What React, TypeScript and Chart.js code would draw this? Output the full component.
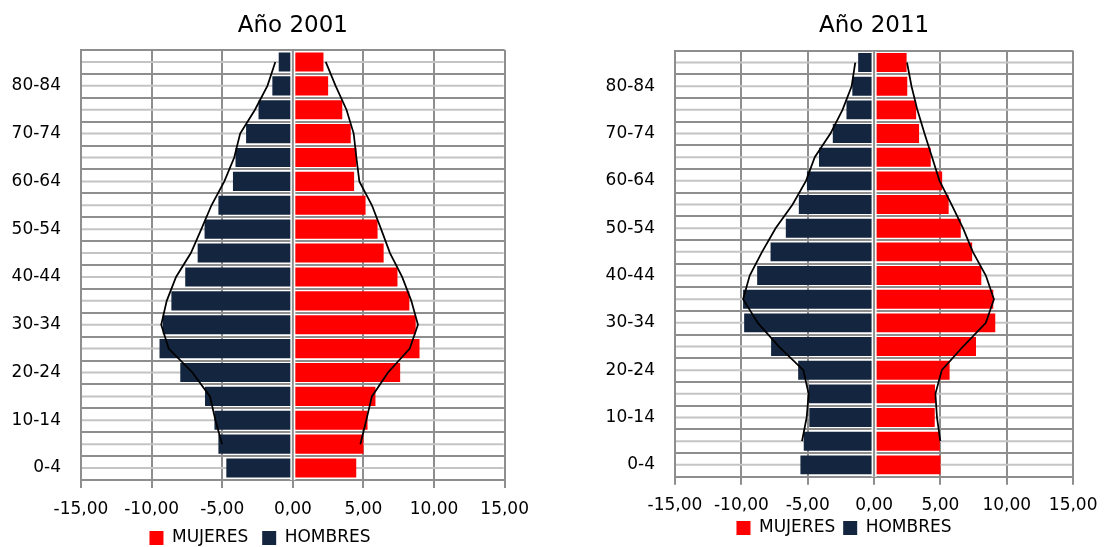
import React, { useEffect, useRef } from 'react';
import { Chart, registerables } from 'chart.js';
Chart.register(...registerables);

const FONT = '"DejaVu Sans", "Open Sans", sans-serif';

const ageGroups = ['0-4','5-9','10-14','15-19','20-24','25-29','30-34','35-39','40-44','45-49','50-54','55-59','60-64','65-69','70-74','75-79','80-84','85+'];

const titles = ['Año 2001', 'Año 2011'];
const legendLabels = ['MUJERES', 'HOMBRES'];

const xMin = -15;
const xMax = 15;
const xStep = 5;

// 2001
const men2001 = [-4.71, -5.27, -5.55, -6.22, -7.97, -9.44, -9.21, -8.6, -7.62, -6.74, -6.25, -5.27, -4.24, -4.06, -3.31, -2.43, -1.45, -1.0];
const women2001 = [4.49, 5.0, 5.29, 5.85, 7.6, 8.97, 8.7, 8.25, 7.41, 6.43, 6.0, 5.15, 4.34, 4.5, 4.1, 3.5, 2.5, 2.17];
const menLine2001 = [null, -5.01, -5.48, -5.87, -7.11, -8.79, -9.32, -8.93, -8.27, -7.22, -6.48, -5.76, -4.85, -4.15, -3.73, -2.68, -1.8, -1.24];
const womenLine2001 = [null, 4.78, 5.2, 5.6, 6.74, 8.28, 8.86, 8.39, 7.74, 6.88, 6.25, 5.6, 4.71, 4.5, 4.31, 3.8, 3.03, 2.33];

// 2011
const men2011 = [-5.55, -5.3, -4.88, -4.91, -5.72, -7.76, -9.79, -9.87, -8.81, -7.8, -6.65, -5.67, -5.06, -4.15, -3.11, -2.08, -1.64, -1.2];
const women2011 = [5.0, 4.96, 4.57, 4.59, 5.69, 7.68, 9.13, 8.98, 8.08, 7.39, 6.53, 5.62, 5.13, 4.27, 3.39, 3.17, 2.5, 2.45];
const menLine2011 = [null, -5.43, -5.08, -4.93, -5.33, -7.17, -8.76, -9.87, -9.37, -8.44, -7.42, -6.14, -5.13, -4.47, -3.29, -2.38, -1.69, -1.42];
const womenLine2011 = [null, 4.99, 4.74, 4.62, 5.1, 6.7, 8.42, 9.03, 8.42, 7.44, 6.7, 5.84, 4.93, 4.37, 3.8, 3.26, 2.82, 2.48];

const RED = '#ff0000';
const NAVY = '#13253f';
const GRID_DARK = '#8e8e8e';
const GRID_LIGHT = '#c4c4c4';

const midLinesPlugin = {
  id: 'midLines',
  beforeDatasetsDraw(chart: any) {
    const { ctx, chartArea, scales } = chart;
    const y = scales.y;
    ctx.save();
    ctx.strokeStyle = GRID_LIGHT;
    ctx.lineWidth = 2;
    for (let i = 0; i < y.ticks.length; i++) {
      const py = y.getPixelForTick(i);
      ctx.beginPath();
      ctx.moveTo(chartArea.left + 1, py);
      ctx.lineTo(chartArea.right - 1, py);
      ctx.stroke();
    }
    ctx.restore();
  },
  afterDatasetsDraw(chart: any) {
    const { ctx, chartArea, scales } = chart;
    const x0 = scales.x.getPixelForValue(0);
    ctx.save();
    ctx.fillStyle = '#ffffff';
    ctx.fillRect(x0 - 2.5, chartArea.top + 1, 5, chartArea.bottom - chartArea.top - 1);
    ctx.strokeStyle = GRID_DARK;
    ctx.lineWidth = 2;
    ctx.beginPath();
    ctx.moveTo(x0, chartArea.top);
    ctx.lineTo(x0, chartArea.bottom);
    ctx.stroke();
    ctx.restore();
  },
};

type PyrProps = {
  title: string;
  men: number[];
  women: number[];
  menLine: (number | null)[];
  womenLine: (number | null)[];
  left: number;
  width: number;
  padLeft: number;
  padRight: number;
  padBottom: number;
  yWidth: number;
  xHeight: number;
  xPad: number;
  legendPad: number;
  titleTop: number;
  titleBottom: number;
};

const H = 560;

function Pyramid(p: PyrProps) {
  const ref = useRef<HTMLCanvasElement | null>(null);
  useEffect(() => {
    if (!ref.current) return;
    const chart = new Chart(ref.current, {
      type: 'bar',
      data: {
        labels: ageGroups,
        datasets: [
          {
            type: 'line',
            label: 'lineH',
            data: p.menLine,
            borderColor: '#000000',
            borderWidth: 1.75,
            pointRadius: 0,
            fill: false,
            tension: 0,
          } as any,
          {
            type: 'line',
            label: 'lineM',
            data: p.womenLine,
            borderColor: '#000000',
            borderWidth: 1.75,
            pointRadius: 0,
            fill: false,
            tension: 0,
          } as any,
          {
            label: legendLabels[0],
            data: p.women,
            backgroundColor: RED,
            borderWidth: 0,
            barPercentage: 0.8,
            categoryPercentage: 1,
            grouped: false,
          },
          {
            label: legendLabels[1],
            data: p.men,
            backgroundColor: NAVY,
            borderWidth: 0,
            barPercentage: 0.8,
            categoryPercentage: 1,
            grouped: false,
          },
        ],
      },
      options: {
        indexAxis: 'y',
        animation: false,
        responsive: false,
        maintainAspectRatio: false,
        layout: { padding: { left: p.padLeft, right: p.padRight, top: 0, bottom: p.padBottom } },
        plugins: {
          title: {
            display: true,
            text: p.title,
            fullSize: false,
            color: '#000',
            font: { family: FONT, size: 23, weight: 'normal' },
            padding: { top: p.titleTop, bottom: p.titleBottom },
          },
          legend: {
            display: true,
            position: 'bottom',
            labels: {
              color: '#000',
              font: { family: FONT, size: 17 },
              boxWidth: 14,
              boxHeight: 14,
              padding: p.legendPad,
              filter: (item: any) => item.text === legendLabels[0] || item.text === legendLabels[1],
            },
          },
          tooltip: { enabled: false },
        },
        scales: {
          x: {
            type: 'linear',
            min: xMin,
            max: xMax,
            ticks: {
              stepSize: xStep,
              color: '#000',
              font: { family: FONT, size: 17 },
              padding: p.xPad,
              callback: (v: any) => Number(v).toFixed(2).replace('.', ','),
            },
            grid: {
              color: GRID_DARK,
              lineWidth: 2,
              drawTicks: true,
              tickLength: 8,
              tickColor: GRID_DARK,
            },
            border: { display: true, color: GRID_DARK, width: 2 },
            afterFit: (scale: any) => { scale.height = p.xHeight; },
          },
          y: {
            type: 'category',
            reverse: true,
            offset: true,
            ticks: {
              autoSkip: false,
              color: '#000',
              font: { family: FONT, size: 17 },
              padding: 20,
              callback: function (this: any, value: any, index: number) {
                return index % 2 === 0 ? this.getLabelForValue(value) : '';
              },
            },
            grid: {
              offset: true,
              color: GRID_DARK,
              lineWidth: 2,
              drawTicks: false,
            },
            border: { display: true, color: GRID_DARK, width: 2 },
            afterFit: (scale: any) => { scale.width = p.yWidth; },
          },
        },
      } as any,
      plugins: [midLinesPlugin],
    });
    return () => chart.destroy();
  }, []);
  return (
    <div style={{ position: 'absolute', left: p.left, top: 0, width: p.width, height: H }}>
      <canvas ref={ref} width={p.width} height={H} style={{ display: 'block', width: p.width, height: H }} />
    </div>
  );
}

export default function App() {
  return (
    <div style={{ position: 'fixed', left: 0, top: 0, width: 1108, height: 547, overflow: 'hidden', background: '#fff' }}>
      <Pyramid
        title={titles[0]}
        men={men2001}
        women={women2001}
        menLine={menLine2001}
        womenLine={womenLine2001}
        left={0}
        width={540}
        padLeft={11}
        padRight={31}
        padBottom={3.5}
        yWidth={70}
        xHeight={35.5}
        xPad={11}
        legendPad={14}
        titleTop={12}
        titleBottom={10.4}
      />
      <Pyramid
        title={titles[1]}
        men={men2011}
        women={women2011}
        menLine={menLine2011}
        womenLine={womenLine2011}
        left={560}
        width={548}
        padLeft={46}
        padRight={26}
        padBottom={13.5}
        yWidth={69}
        xHeight={34.8}
        xPad={10.5}
        legendPad={8}
        titleTop={12}
        titleBottom={11.1}
      />
    </div>
  );
}
